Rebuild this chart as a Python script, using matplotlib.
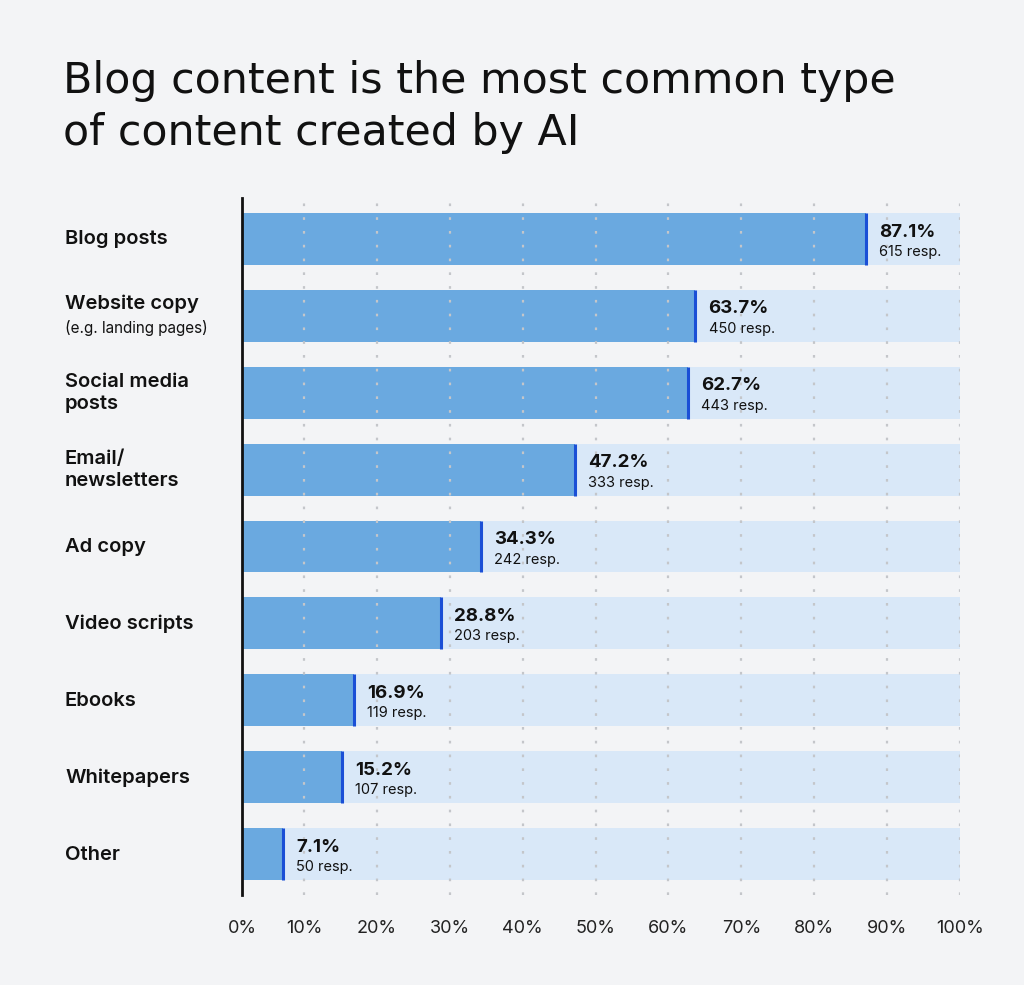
import numpy as np
import matplotlib.pyplot as plt

categories = ['Blog posts', 'Website copy', 'Social media\nposts', 'Email/\nnewsletters',
              'Ad copy', 'Video scripts', 'Ebooks', 'Whitepapers', 'Other']
sublabels = ['', '(e.g. landing pages)', '', '', '', '', '', '', '']
percent = [87.1, 63.7, 62.7, 47.2, 34.3, 28.8, 16.9, 15.2, 7.1]
responses = [615, 450, 443, 333, 242, 203, 119, 107, 50]
ticks = [0, 10, 20, 30, 40, 50, 60, 70, 80, 90, 100]

bg = '#f3f4f6'
plt.rcParams['font.family'] = ['Inter', 'DejaVu Sans']

fig = plt.figure(figsize=(10.24, 9.85), dpi=100, facecolor=bg)
ax = fig.add_axes([242 / 1024, 1 - 895 / 985, 718 / 1024, 697 / 985])
ax.set_facecolor(bg)

# the axis line sits a little right of the true zero in the original design
x0 = 1.5

y = np.arange(len(categories))
h = 0.676
ax.barh(y, [100] * len(y), height=h, color='#d9e8f8', zorder=1)
ax.barh(y, percent, height=h, color='#6aa9e0', zorder=2)
for i, p in enumerate(percent):
    ax.plot([p, p], [i - h / 2, i + h / 2], color='#1a4fd6', lw=2.2,
            solid_capstyle='butt', zorder=4)
    ax.annotate(f'{p}%', (p, i - 0.09), xytext=(9.5, 0), textcoords='offset points',
                fontsize=13.5, fontweight='bold', va='center', ha='left',
                color='#111111', zorder=5)
    ax.annotate(f'{responses[i]} resp.', (p, i + 0.17), xytext=(9.5, 0),
                textcoords='offset points', fontsize=10.5, va='center', ha='left',
                color='#111111', zorder=5)

for t in ticks[1:]:
    ax.axvline(t, color='#c4c6ca', lw=1.6, ls=(0, (1.2, 5)), zorder=3)

ax.set_xlim(x0, 100)
ax.set_ylim(8.533, -0.533)
ax.set_xticks([x0] + ticks[1:])
ax.set_xticklabels([f'{t}%' for t in ticks], fontsize=13, color='#222222')
ax.tick_params(axis='x', length=0, pad=18)
ax.set_yticks([])
for s in ['top', 'right', 'bottom']:
    ax.spines[s].set_visible(False)
ax.spines['left'].set_linewidth(2)
ax.spines['left'].set_color('#111111')
ax.spines['left'].set_zorder(6)

for i, c in enumerate(categories):
    yy = 1 - (239 + 77 * i) / 985
    if sublabels[i]:
        fig.text(65 / 1024, yy + 12 / 985, c, fontsize=14.5, fontweight='semibold',
                 va='center', ha='left', color='#111111')
        fig.text(65 / 1024, yy - 12 / 985, sublabels[i], fontsize=11,
                 va='center', ha='left', color='#111111')
    else:
        fig.text(65 / 1024, yy, c, fontsize=14.5, fontweight='semibold',
                 va='center', ha='left', color='#111111', linespacing=1.3)

fig.text(63 / 1024, 1 - 107 / 985, 'Blog content is the most common type\nof content created by AI',
         fontsize=30.8, va='center', ha='left', color='#111111', linespacing=1.28,
         family='DejaVu Sans')

fig.savefig('out.png', dpi=100, facecolor=bg)
